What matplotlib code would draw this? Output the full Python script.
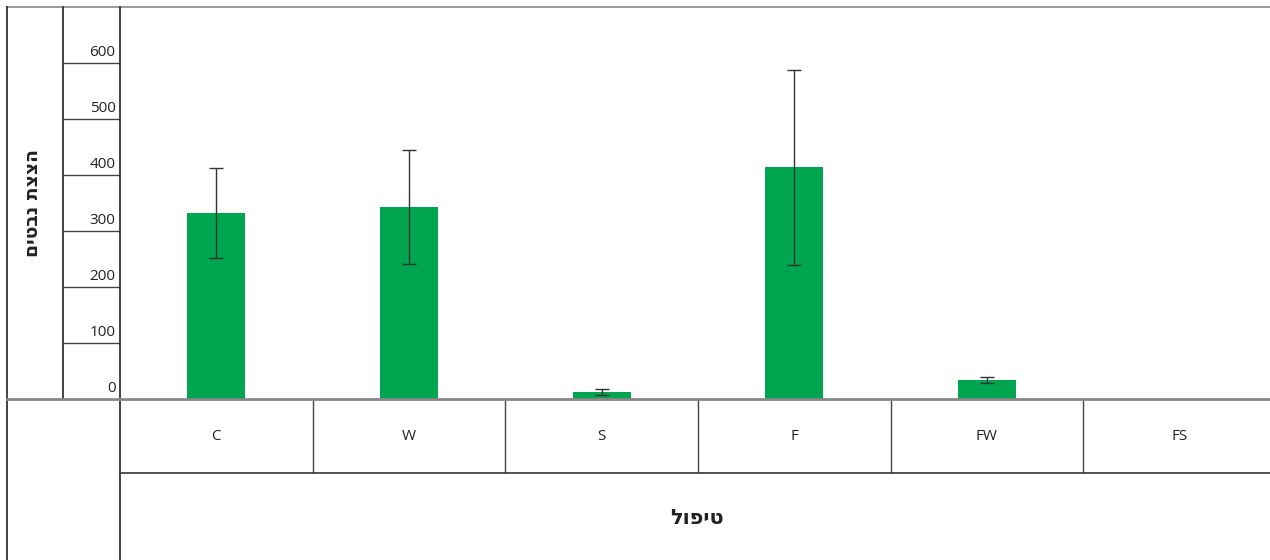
import matplotlib
matplotlib.use('Agg')
import matplotlib.pyplot as plt
from matplotlib.lines import Line2D

plt.rcParams['font.family'] = ['Open Sans', 'DejaVu Sans']

# data
categories = ['C', 'W', 'S', 'F', 'FW', 'FS']
values = [332, 343, 12, 414, 34, 0]
errors = [80, 102, 5, 174, 5, 0]
yticks = [0, 100, 200, 300, 400, 500, 600]
ylabel = 'הצצת נבטים'
xlabel = 'טיפול'

W, H = 1270, 560
fig = plt.figure(figsize=(W / 100, H / 100), dpi=100)


def fx(px):
    return px / W


def fy(py):
    return 1 - py / H


def fline(x0, y0, x1, y1, color='#222222', lw=1.0):
    fig.add_artist(Line2D([fx(x0), fx(x1)], [fy(y0), fy(y1)],
                          transform=fig.transFigure, color=color, lw=lw))


x0, x1 = 120, 1276
y_top, y_zero, y_cat = 7, 399, 473
n = len(categories)

# main bars
ax = fig.add_axes([fx(x0), fy(y_zero), fx(x1 - x0), (y_zero - y_top) / H])
ax.bar(range(n), values, width=0.3, color='#00a550', zorder=2)
for i in range(n):
    if errors[i] > 0:
        ax.errorbar(i, values[i], yerr=errors[i], fmt='none', ecolor='#333333',
                    elinewidth=1, capsize=5, capthick=1, zorder=3)
ax.set_xlim(-0.5, n - 0.5)
ax.set_ylim(0, 700)
ax.axis('off')

# tick column
tax = fig.add_axes([fx(63), fy(y_zero), fx(x0 - 63), (y_zero - y_top) / H])
tax.set_xlim(0, 1)
tax.set_ylim(0, 700)
tax.axis('off')
for t in yticks:
    if t > 0:
        tax.hlines(t, 0, 1, color='#444444', lw=1)
    tax.text(0.92, t + 11 / 0.56, str(t), ha='right', va='center', fontsize=11, color='#222222')

# category row
cax = fig.add_axes([fx(x0), fy(y_cat), fx(x1 - x0), (y_cat - y_zero) / H])
cax.set_xlim(-0.5, n - 0.5)
cax.set_ylim(0, 1)
cax.axis('off')
for i in range(1, n):
    cax.vlines(i - 0.5, 0, 1, color='#444444', lw=1)
for i, c in enumerate(categories):
    cax.text(i, 0.5, c, ha='center', va='center', fontsize=11, color='#222222')

# table lines
fline(7, y_top, W, y_top, color='#888888', lw=1.2)
fline(7, y_top, 7, H, lw=1.2)
fline(63, y_top, 63, y_zero, lw=1.2)
fline(x0, y_top, x0, H, lw=1.2)
fline(7, y_zero, W, y_zero, color='#888888', lw=2)
fline(x0, y_cat, W, y_cat, color='#333333', lw=1.2)

# titles (reversed for right-to-left display)
fig.text(fx(33), fy(203), ylabel[::-1], rotation=90, ha='center', va='center',
         fontsize=13.5, fontweight='bold', family=['DejaVu Sans'], color='#222222')
fig.text(fx(697), fy(518), xlabel[::-1], ha='center', va='center',
         fontsize=15, fontweight='bold', family=['DejaVu Sans'], color='#222222')

fig.savefig('out.png', dpi=100)
